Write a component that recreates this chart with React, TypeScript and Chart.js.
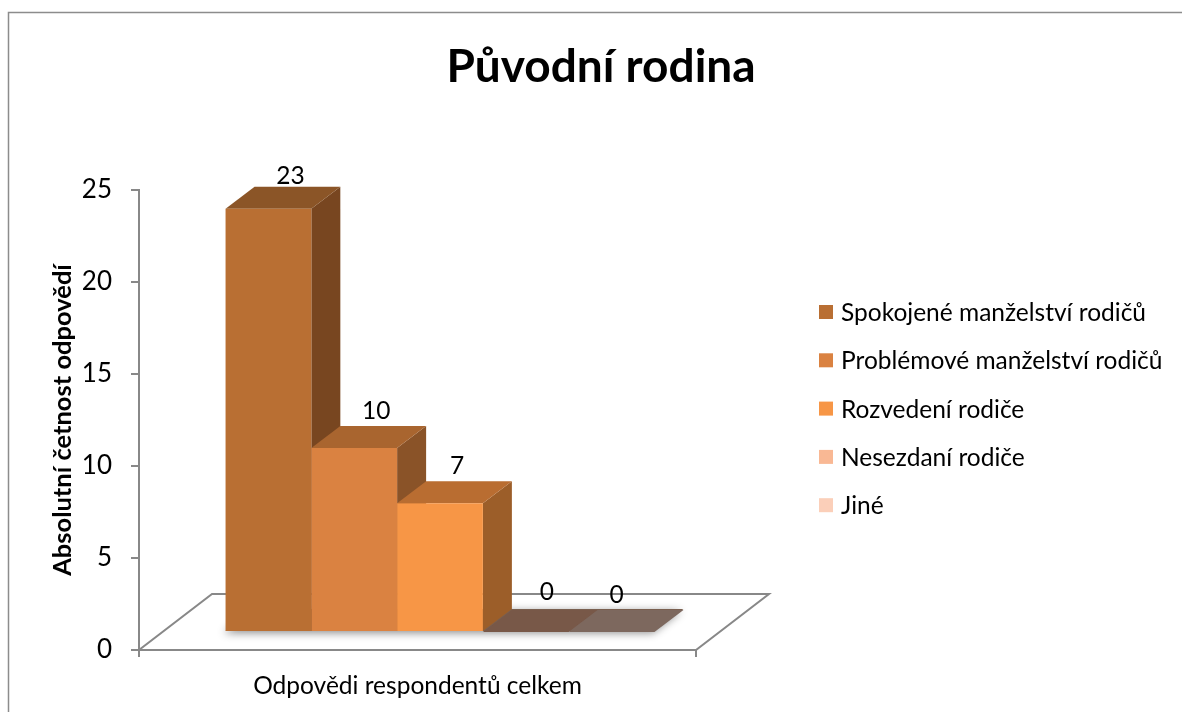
import React, { useEffect, useRef } from 'react';
import { Chart, registerables } from 'chart.js';

Chart.register(...registerables);

// ---------- data ----------
const categories = ['Odpovědi respondentů celkem'];
const seriesNames = [
  'Spokojené manželství rodičů',
  'Problémové manželství rodičů',
  'Rozvedení rodiče',
  'Nesezdaní rodiče',
  'Jiné',
];
const seriesValues = [23, 10, 7, 0, 0];
const yTicks = [0, 5, 10, 15, 20, 25];
const chartTitle = 'Původní rodina';
const yAxisTitle = 'Absolutní četnost odpovědí';

// ---------- styles ----------
const frontColors = ['#B96F33', '#DA8241', '#F79646', '#F9B894', '#FBCFB9'];
const topColors = ['#8B5527', '#A9652F', '#B96D31', '#785848', '#7D685E'];
const sideColors = ['#784620', '#8A5328', '#9C5E29', '#9C7A66', '#A58F84'];
const labelDx = [22, 22, 17, 21, 5];
const labelGap = [3, 7, 7, 10, 7];
const FONT = 'Lato, "Open Sans", sans-serif';
const TEXT_SIZE = 24.5;
const AXIS_GRAY = '#888888';

const SHIFT_DX = 22.5; // bars sit half-way into the floor
const SHIFT_DY = 18;
const DEPTH_DX = 29; // bar depth
const DEPTH_DY = 22;
const FLOOR_DX = 73; // floor depth
const FLOOR_DY = 56;

const LEGEND_X = 819;
const LEGEND_Y0 = 312;
const LEGEND_GAP = 48.3;
const LEGEND_BOX = 14;

const frame3d = {
  id: 'frame3d',
  beforeDraw(chart: any) {
    const { ctx } = chart;
    ctx.save();
    ctx.fillStyle = '#ffffff';
    ctx.fillRect(0, 0, chart.width, chart.height);
    ctx.strokeStyle = '#8c8c8c';
    ctx.lineWidth = 1.5;
    ctx.beginPath();
    ctx.moveTo(8.5, chart.height);
    ctx.lineTo(8.5, 12.5);
    ctx.lineTo(chart.width, 12.5);
    ctx.stroke();
    ctx.restore();
  },
  beforeDatasetsDraw(chart: any) {
    const { ctx, chartArea: a } = chart;
    // floor
    ctx.save();
    ctx.beginPath();
    ctx.moveTo(a.left, a.bottom);
    ctx.lineTo(a.right, a.bottom);
    ctx.lineTo(a.right + FLOOR_DX, a.bottom - FLOOR_DY);
    ctx.lineTo(a.left + FLOOR_DX, a.bottom - FLOOR_DY);
    ctx.closePath();
    ctx.fillStyle = '#ffffff';
    ctx.fill();
    ctx.strokeStyle = AXIS_GRAY;
    ctx.lineWidth = 2;
    ctx.lineJoin = 'miter';
    ctx.stroke();
    ctx.restore();

    const bars: any[] = chart.data.datasets.map((_: any, i: number) => chart.getDatasetMeta(i).data[0]);
    ctx.save();
    ctx.translate(SHIFT_DX, -SHIFT_DY);
    // soft shadow of the bar footprint
    const first = bars[0];
    const last = bars[bars.length - 1];
    const l = first.x - first.width / 2;
    const r = last.x + last.width / 2;
    const b = first.base;
    ctx.save();
    ctx.beginPath();
    ctx.moveTo(l, b);
    ctx.lineTo(r, b);
    ctx.lineTo(r + DEPTH_DX, b - DEPTH_DY);
    ctx.lineTo(l + DEPTH_DX, b - DEPTH_DY);
    ctx.closePath();
    ctx.shadowColor = 'rgba(0,0,0,0.45)';
    ctx.shadowBlur = 9;
    ctx.shadowOffsetX = -2;
    ctx.shadowOffsetY = 2;
    ctx.fillStyle = '#7a6050';
    ctx.fill();
    ctx.restore();

    bars.forEach((bar: any, i: number) => {
      const x0 = bar.x - bar.width / 2;
      const x1 = bar.x + bar.width / 2;
      const top = bar.y;
      const base = bar.base;
      // side
      if (base - top > 0.5) {
        ctx.beginPath();
        ctx.moveTo(x1, top);
        ctx.lineTo(x1 + DEPTH_DX, top - DEPTH_DY);
        ctx.lineTo(x1 + DEPTH_DX, base - DEPTH_DY);
        ctx.lineTo(x1, base);
        ctx.closePath();
        ctx.fillStyle = sideColors[i];
        ctx.fill();
      }
      // top
      ctx.beginPath();
      ctx.moveTo(x0, top);
      ctx.lineTo(x1, top);
      ctx.lineTo(x1 + DEPTH_DX, top - DEPTH_DY);
      ctx.lineTo(x0 + DEPTH_DX, top - DEPTH_DY);
      ctx.closePath();
      ctx.fillStyle = topColors[i];
      ctx.fill();
    });
    ctx.restore();

    // translate the front faces drawn by Chart.js
    ctx.save();
    ctx.translate(SHIFT_DX, -SHIFT_DY);
  },
  afterDatasetsDraw(chart: any) {
    const { ctx } = chart;
    ctx.restore();
    // value labels
    ctx.save();
    ctx.font = `${TEXT_SIZE}px ${FONT}`;
    ctx.fillStyle = '#000000';
    ctx.textAlign = 'center';
    ctx.textBaseline = 'alphabetic';
    chart.data.datasets.forEach((ds: any, i: number) => {
      const bar = chart.getDatasetMeta(i).data[0];
      const x = bar.x + SHIFT_DX + labelDx[i];
      const y = bar.y - SHIFT_DY - DEPTH_DY - labelGap[i];
      ctx.fillText(String(ds.data[0]), x, y);
    });
    ctx.restore();
  },
  afterDraw(chart: any) {
    const { ctx } = chart;
    ctx.save();
    ctx.font = `${TEXT_SIZE}px ${FONT}`;
    ctx.textAlign = 'left';
    ctx.textBaseline = 'middle';
    chart.data.datasets.forEach((ds: any, i: number) => {
      const cy = LEGEND_Y0 + i * LEGEND_GAP;
      ctx.fillStyle = frontColors[i];
      ctx.fillRect(LEGEND_X, cy - LEGEND_BOX / 2, LEGEND_BOX, LEGEND_BOX);
      ctx.fillStyle = '#000000';
      ctx.fillText(ds.label, LEGEND_X + 22, cy + 1);
    });
    ctx.restore();
  },
};

export default function App() {
  const canvasRef = useRef<HTMLCanvasElement | null>(null);

  useEffect(() => {
    if (!canvasRef.current) return;
    const chart = new Chart(canvasRef.current, {
      type: 'bar',
      data: {
        labels: categories,
        datasets: seriesNames.map((name, i) => ({
          label: name,
          data: [seriesValues[i]],
          backgroundColor: frontColors[i],
          borderWidth: 0,
          categoryPercentage: 0.77,
          barPercentage: 1,
          clip: false as any,
        })),
      },
      options: {
        responsive: false,
        animation: false,
        events: [],
        layout: { padding: { left: 40, right: 20, top: 0, bottom: 0 } },
        plugins: {
          legend: { display: false },
          tooltip: { enabled: false },
          title: {
            display: true,
            text: chartTitle,
            color: '#000000',
            font: { family: FONT, size: 46, weight: 'bold' },
            padding: { top: 40, bottom: 94.8 },
          },
        },
        scales: {
          x: {
            ticks: { color: '#000000', font: { family: FONT, size: TEXT_SIZE }, padding: 14 },
            grid: {
              drawOnChartArea: false,
              drawTicks: true,
              tickLength: 7,
              color: AXIS_GRAY,
              lineWidth: 2,
              offset: true,
            },
            border: { display: true, color: AXIS_GRAY, width: 2 },
            afterFit: (s: any) => {
              s.height = 62;
            },
          },
          y: {
            min: 0,
            max: 25,
            afterBuildTicks: (s: any) => {
              s.ticks = yTicks.map((v) => ({ value: v }));
            },
            ticks: { color: '#000000', font: { family: FONT, size: 26 }, padding: 19 },
            grid: {
              drawOnChartArea: false,
              drawTicks: true,
              tickLength: 8,
              color: AXIS_GRAY,
              lineWidth: 2,
            },
            border: { display: true, color: AXIS_GRAY, width: 2 },
            title: {
              display: true,
              text: yAxisTitle,
              color: '#000000',
              font: { family: FONT, size: 25.5, weight: 'bold' },
              padding: { top: 7, bottom: 0 },
            },
            afterFit: (s: any) => {
              s.width = 139 - 40;
            },
          },
          legendSpace: {
            type: 'linear',
            position: 'right',
            display: true,
            ticks: { display: false },
            grid: { display: false, drawTicks: false },
            border: { display: false },
            afterFit: (s: any) => {
              s.width = 1182 - 20 - 696;
            },
          },
        },
      } as any,
      plugins: [frame3d],
    });
    return () => chart.destroy();
  }, []);

  return (
    <div style={{ position: 'absolute', left: 0, top: 0, width: 1182, height: 712, background: '#fff' }}>
      <canvas ref={canvasRef} width={1182} height={712} style={{ display: 'block', width: 1182, height: 712 }} />
    </div>
  );
}
